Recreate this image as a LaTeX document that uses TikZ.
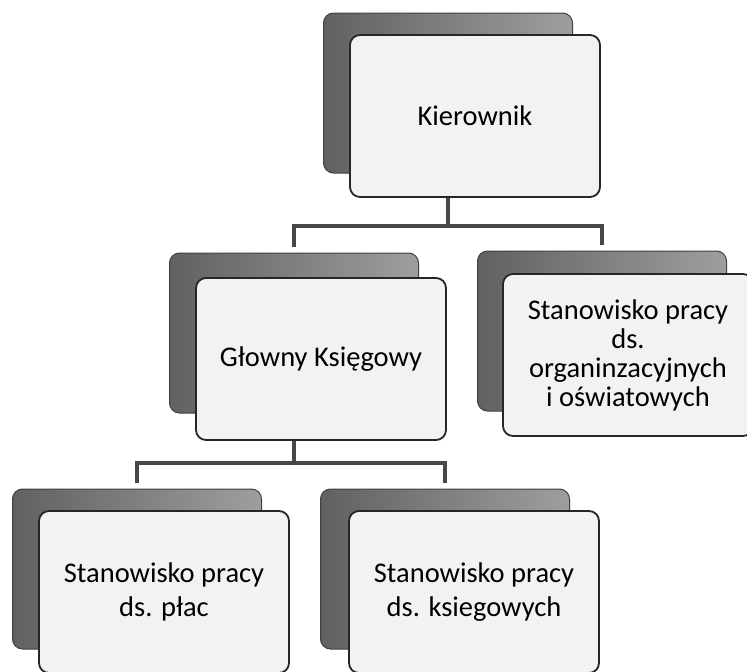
\documentclass[tikz,border=0pt]{standalone}
\usepackage{fontspec}
\setmainfont{Carlito}
\tikzset{
  backbox/.style={rectangle, rounded corners=10pt, minimum width=249pt,
    minimum height=160pt, inner sep=0pt, left color=black!62,
    right color=black!38, draw=black!75, line width=1pt},
  frontbox/.style={rectangle, rounded corners=10pt, minimum width=250pt,
    minimum height=162pt, inner sep=2pt, fill=black!5, draw=black!85,
    line width=1.8pt, align=center, font=\fontsize{28.5}{34}\selectfont},
  link/.style={line width=3.5pt, draw=black!72}
}
\begin{document}
\begin{tikzpicture}[x=1pt, y=-1pt]
            \useasboundingbox (0,0) rectangle (747,672);
            % top
            \node[backbox] at (448,93) (kierS) {};
            \node[frontbox] at (475,116) (kier) {Kierownik};
            % second line
            \node[backbox] at (294,333) (glowS) {};
            \node[frontbox] at (321,359) (glow) {Głowny Księgowy};
            \node[backbox] at (602,331) (orgS) {};
            \node[frontbox, font=\fontsize{28.5}{29}\selectfont] at (628,355) (org)
              {Stanowisko pracy\\ds.\\organinzacyjnych\\i oświatowych};
            % third line
            \node[backbox] at (137,569) (placS) {};
            \node[frontbox] at (164,592) (plac) {Stanowisko pracy\\ds. płac};
            \node[backbox] at (445,569) (ksiegS) {};
            \node[frontbox] at (474,592) (ksieg) {Stanowisko pracy\\ds. ksiegowych};
            % links
            \draw[link] (kier.south -| kierS.center) -- ++(0,28) -| ([yshift=6pt]glowS.north);
            \draw[link] (kier.south -| kierS.center) -- ++(0,28) -| ([yshift=6pt]orgS.north);
            \draw[link] (glow.south -| glowS.center) -- ++(0,22) -| ([yshift=6pt]placS.north);
            \draw[link] (glow.south -| glowS.center) -- ++(0,22) -| ([yshift=6pt]ksiegS.north);
          \end{tikzpicture}
\end{document}
